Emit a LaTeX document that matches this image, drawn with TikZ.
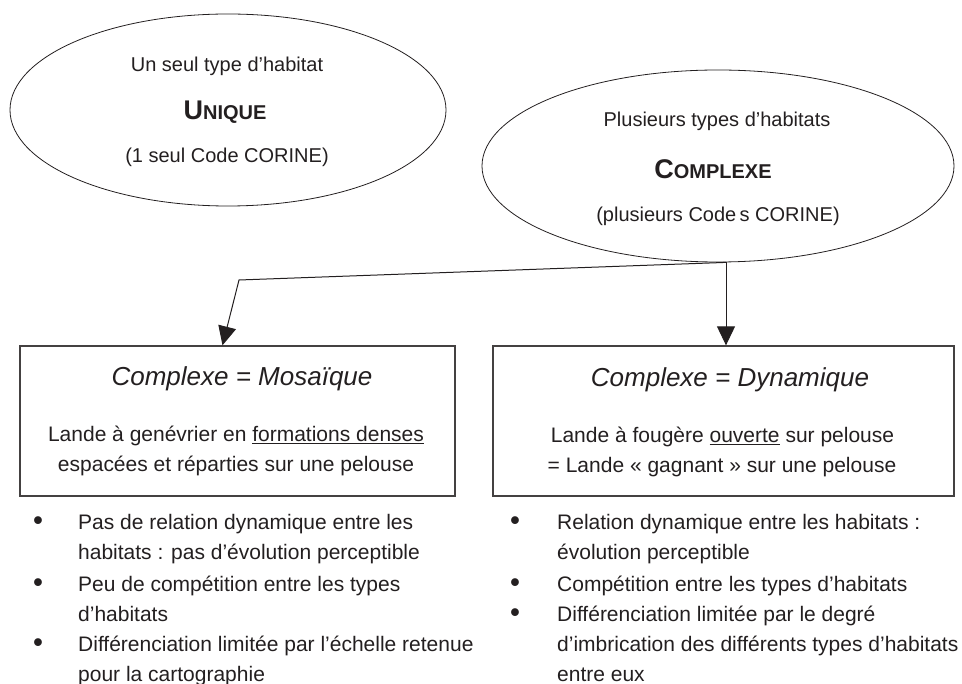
\documentclass[tikz,border=0pt]{standalone}
\usepackage{fontspec}
\setmainfont{Liberation Sans}
\usepackage{xcolor}
\usetikzlibrary{shapes.geometric, arrows.meta, positioning}
\definecolor{inkgray}{RGB}{35,31,32}
\newcommand{\capsmix}[2]{{\fontsize{27}{30}\selectfont #1}{\fontsize{20}{24}\selectfont #2}}

\begin{document}
\begin{tikzpicture}[x=1pt,y=-1pt,
    bulle/.style={ellipse,draw=inkgray,line width=0.8pt,inner sep=0pt},
    cadre/.style={rectangle,draw=inkgray!85,line width=1.3pt,inner sep=0pt},
    fleche/.style={-{Triangle[length=19pt,width=18pt]},line width=1pt,draw=inkgray},
    texte/.style={anchor=base,inner sep=0pt,text=inkgray,font=\fontsize{21}{25}\selectfont},
    petit/.style={texte,font=\fontsize{20}{24}\selectfont},
    gras/.style={texte,font=\bfseries},
    titre/.style={texte,font=\fontsize{26}{30}\selectfont\itshape},
    puce/.style={texte,font=\fontsize{27}{30}\selectfont\bfseries},
    ligne/.style={texte,anchor=base west}]

    \useasboundingbox (0,0) rectangle (962,684);

    % Habitat unique
    \node[bulle,minimum width=436pt,minimum height=192pt] (unique) at (228,110) {};
    \node[petit] (uniqueHaut) at (227,72) {Un seul type d’habitat};
    \node[gras] (uniqueNom) at (225,120) {\capsmix{U}{NIQUE}};
    \node[petit] (uniqueBas) at (227,163) {(1 seul Code CORINE)};

    % Habitat complexe
    \node[bulle,minimum width=472pt,minimum height=192pt] (cplx) at (718,166) {};
    \node[petit] (cplxHaut) at (717,127) {Plusieurs types d’habitats};
    \node[gras] (cplxNom) at (713,179) {\capsmix{C}{OMPLEXE}};
    \node[petit] (cplxBas) at (718,222) {(plusieurs Code\,s CORINE)};

    % Complexe = Mosaique
    \node[cadre,minimum width=435pt,minimum height=150pt] (mosa) at (237.5,421) {};
    \node[titre] (mosaTitre) at (242,386) {Complexe = Mosaïque};
    \node[texte] (mosaL1) at (236,442) {Lande à genévrier en \underline{formations denses}};
    \node[texte] (mosaL2) at (236,472) {espacées et réparties sur une pelouse};

    % Complexe = Dynamique
    \node[cadre,minimum width=461pt,minimum height=150pt] (dyna) at (723.5,421) {};
    \node[titre] (dynaTitre) at (730,387) {Complexe = Dynamique};
    \node[texte] (dynaL1) at (722.5,443) {Lande à fougère \underline{ouverte} sur pelouse};
    \node[texte] (dynaL2) at (722,473) {= Lande « gagnant » sur une pelouse};

    % Fleches
    \coordinate (fourche) at ([xshift=8pt]cplx.south);
    \coordinate (coude) at (239,280);
    \draw[fleche] (fourche) -- (coude) -- ([xshift=-15pt]mosa.north);
    \draw[fleche] (fourche) -- (fourche |- dyna.north);

    % Puces a gauche
    \foreach \y [count=\i] in {530,591,651}
        \node[puce] (pg\i) at (38,\y) {•};
    \foreach \y/\t [count=\i] in {530/{Pas de relation dynamique entre les},
                                  560/{habitats : pas d’évolution perceptible},
                                  591/{Peu de compétition entre les types},
                                  621/{d’habitats},
                                  651/{Différenciation limitée par l’échelle retenue},
                                  681/{pour la cartographie}}
        \node[ligne] (lg\i) at (78,\y) {\t};

    % Puces a droite
    \foreach \y [count=\i] in {530,591,621}
        \node[puce] (pd\i) at (515,\y) {•};
    \foreach \y/\t [count=\i] in {530/{Relation dynamique entre les habitats :},
                                  560/{évolution perceptible},
                                  591/{Compétition entre les types d’habitats},
                                  621/{Différenciation limitée par le degré},
                                  651/{d’imbrication des différents types d’habitats},
                                  681/{entre eux}}
        \node[ligne] (ld\i) at (557,\y) {\t};
\end{tikzpicture}
\end{document}
